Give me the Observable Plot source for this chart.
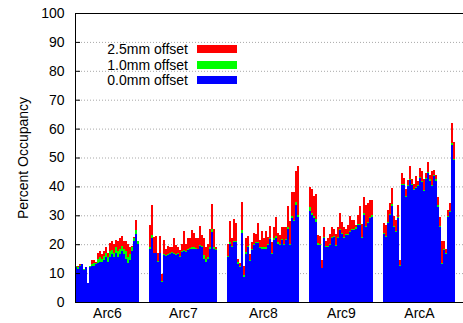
<!DOCTYPE html>
<html>
<head>
<meta charset="utf-8">
<script src="https://cdn.jsdelivr.net/npm/d3@7"></script>
<script src="https://cdn.jsdelivr.net/npm/@observablehq/plot@0.6"></script>
<style>
  html, body { margin: 0; padding: 0; background: #fff; }
  #wrap { position: relative; width: 463px; height: 323px; font-family: "Liberation Sans", Arial, Helvetica, sans-serif; }
  .lg-text { position: absolute; width: 110px; text-align: right; font-size: 14px; line-height: 16px; color: #000; white-space: nowrap; }
  .lg-swatch { position: absolute; width: 40px; height: 8px; }
</style>
</head>
<body>
<div id="wrap"></div>
<script>
// ---- data (percent occupancy per bar) ----
const groupNames = ["Arc6", "Arc7", "Arc8", "Arc9", "ArcA"];
const seriesNames = ["2.5mm offset", "1.0mm offset", "0.0mm offset"];
const seriesColors = ["#ff0000", "#00ff00", "#0000ff"];

const red6   = [12.3, 12.5, 13, 13.2, 11.5, 12.2, 6.5, 12.5, 14.5, 14.5, 14, 17, 17.5, 16.5, 17.5, 19, 17, 20.5, 21, 20, 21.5, 21, 22, 23, 21, 21, 20, 19, 19.5, 22.5, 28.3, 21];
const green6 = [12.3, 12, 12.8, 13.2, 11.3, 12.2, 6.5, 12.3, 13, 13.5, 13.6, 15, 15.5, 15, 16, 17, 15.5, 17.5, 18, 17, 19, 17.5, 18.5, 19.5, 18.5, 17.5, 15.5, 16.5, 19, 22, 25, 21];
const blue6  = [12, 11.5, 12.5, 13, 11, 12, 6.5, 12, 12.5, 12.5, 13, 13.5, 14, 14, 14.5, 15.5, 14, 15.5, 16.5, 15.5, 17, 15.5, 16.5, 17.5, 16.5, 15, 13.5, 14.5, 17.5, 21, 23.5, 20];

const red7   = [26.6, 33.5, 22.5, 22.8, 17, 22.8, 9.8, 21.6, 18.5, 19.3, 19.1, 18.9, 22.3, 19.7, 19.1, 17.9, 20.0, 24.5, 20.0, 22.0, 22.0, 24.9, 23.9, 22.0, 22.0, 26.3, 23.1, 22.3, 19.1, 20.2, 25.1, 33.8, 25.4, 19];
const green7 = [18.9, 23.1, 17.1, 17.1, 14.2, 17.1, 7.4, 16.5, 16.1, 16.5, 16.8, 17.2, 16.8, 16.5, 16.8, 15.8, 17.6, 18.0, 17.6, 18.3, 18.6, 18.9, 18.9, 18.6, 18.5, 19.8, 19.4, 16.2, 14.8, 15.4, 18.9, 25.2, 19.2, 18.3];
const blue7  = [18.5, 22.3, 16.8, 16.8, 13.9, 16.8, 7.0, 16.2, 15.8, 16.2, 16.5, 16.8, 16.5, 16.2, 16.5, 15.4, 17.3, 17.7, 17.3, 17.9, 18.2, 18.5, 18.5, 18.3, 18.2, 19.4, 19.1, 15.0, 13.9, 15.0, 18.5, 24.3, 18.5, 18.0];

const red8   = [20.2, 28.1, 22, 28.8, 27.5, 15, 13.5, 34.6, 12.3, 22.3, 22.7, 16.7, 20.8, 23.9, 23.7, 27.4, 21.6, 24.5, 22, 24.5, 22.5, 26.2, 20.8, 26, 29.5, 23.9, 23.1, 26, 25.8, 25.8, 33.1, 28.1, 38.1, 38, 45.4, 47];
const green8 = [15.9, 20.6, 19.4, 21.2, 21.2, 13.7, 12.5, 24.8, 9.2, 17.3, 19.4, 14.6, 18.3, 20.0, 20.9, 20.9, 19.2, 18.9, 18.9, 18.9, 20.0, 22.3, 17.0, 22.0, 22.7, 20.6, 20.0, 21.8, 20.0, 21.8, 26.0, 20.0, 29.7, 28.4, 34.6, 30.0];
const blue8  = [15.6, 20.2, 19, 20.8, 20.8, 13.3, 12.1, 23.9, 8.6, 16.7, 19.0, 14.2, 17.9, 19.6, 20.5, 20.5, 18.8, 18.5, 18.5, 18.5, 19.6, 21.9, 16.5, 21.6, 22.3, 20.2, 19.6, 21.4, 19.6, 21.4, 25.4, 19.6, 28.9, 28, 33.5, 29.5];

const red9   = [39.9, 39.0, 36.6, 37.3, 23.1, 22.8, 14.5, 26.0, 21.2, 22.3, 23.5, 25.8, 25.4, 23.7, 25.8, 30.9, 27.8, 26, 25.1, 26.6, 29.7, 28.3, 28.3, 26.6, 30.1, 33.2, 27, 36.2, 33.5, 34.3, 35.3, 35.3];
const green9 = [32.7, 30.9, 29.6, 28.8, 20.3, 20.1, 11.9, 22.4, 19.5, 19.3, 20.1, 22.4, 22.9, 19.7, 22.4, 25.3, 23.9, 22.4, 23.5, 23.5, 24.7, 25.3, 25.3, 25.8, 27.0, 27.0, 22.4, 30.8, 26.4, 27.6, 29.4, 30.0];
const blue9  = [31.6, 30.1, 28.9, 27.7, 19.7, 19.7, 11.6, 22.0, 19.1, 18.9, 19.7, 22.0, 22.5, 19.3, 22.0, 24.9, 23.5, 22.0, 23.1, 23.1, 24.3, 24.9, 24.9, 25.4, 26.6, 26.6, 22.0, 30.1, 26.0, 27.2, 28.9, 29.5];

const redA   = [27.2, 26.6, 31.8, 34.3, 39.3, 29.7, 28.3, 33.5, 14.4, 44.5, 43, 39, 42.3, 47, 42.5, 41, 43.6, 42, 46.5, 45.3, 42.5, 44.5, 48.5, 44, 45.5, 45.7, 44, 36.2, 29.3, 21.2, 21, 18.5, 32, 34.3, 62, 55.5];
const greenA = [24.0, 23.0, 27.6, 30.6, 33.8, 26.4, 24.7, 29.3, 12.7, 40.8, 40.9, 36.8, 40.4, 42.6, 40.9, 39.1, 39.9, 40.4, 43.2, 41.9, 38.9, 42.9, 44.9, 42.4, 40.5, 43.9, 42.4, 33.5, 26.4, 13.5, 18.4, 16.9, 29.9, 31.5, 55.1, 49.5];
const blueA  = [23.5, 22.5, 27.2, 30, 33.2, 26, 24.3, 28.9, 12.4, 40.5, 40.5, 36.4, 40, 42.2, 40.5, 38.7, 39.5, 40, 42.8, 41.5, 38.5, 42.5, 44.5, 42, 40.1, 43.5, 42, 33, 26, 13, 18, 16.5, 29.5, 31, 54.3, 49];

const yTicks = [0, 10, 20, 30, 40, 50, 60, 70, 80, 90, 100];

// ---- build table ----
const groups = [
  {name: groupNames[0], red: red6, green: green6, blue: blue6},
  {name: groupNames[1], red: red7, green: green7, blue: blue7},
  {name: groupNames[2], red: red8, green: green8, blue: blue8},
  {name: groupNames[3], red: red9, green: green9, blue: blue9},
  {name: groupNames[4], red: redA, green: greenA, blue: blueA}
];
const GAP = 5, TAIL = 4;
const rows = [];
const centers = [];
let s = 0;
groups.forEach(g => {
  const n = g.blue.length;
  centers.push(s + n / 2);
  for (let i = 0; i < n; i++) rows.push({slot: s + i, red: g.red[i], green: g.green[i], blue: g.blue[i]});
  s += n + GAP;
});
const xMax = s - GAP + TAIL;

const font = '"Liberation Sans", Arial, Helvetica, sans-serif';
const barOpts = (key, color) => ({x1: "slot", x2: d => d.slot + 1, y1: 0, y2: key, fill: color, shapeRendering: "crispEdges"});

const chart = Plot.plot({
  width: 463,
  height: 323,
  marginLeft: 75,
  marginRight: 0,
  marginTop: 13,
  marginBottom: 21,
  style: {fontFamily: font, fontSize: "14px", background: "#fff", color: "#000", overflow: "visible"},
  x: {type: "linear", domain: [0, xMax], axis: null},
  y: {domain: [0, 100], axis: null},
  marks: [
    Plot.gridY(yTicks.slice(1, -1), {stroke: "#a8a8a8", strokeOpacity: 1, strokeDasharray: "1,2"}),
    Plot.rect(rows, barOpts("red", seriesColors[0])),
    Plot.rect(rows, barOpts("green", seriesColors[1])),
    Plot.rect(rows, barOpts("blue", seriesColors[2])),
    Plot.ruleY([0, 100], {stroke: "#000"}),
    Plot.ruleX([0], {stroke: "#000"}),
    Plot.axisY(yTicks, {tickSize: 5, dx: 5, tickFormat: () => "", label: null}),
    Plot.axisY(yTicks, {tickSize: 0, tickPadding: 11, label: "Percent Occupancy", labelAnchor: "center", labelArrow: "none", labelOffset: 57}),
    Plot.axisX(centers, {tickSize: 0, tickPadding: 6, tickFormat: d => groups[centers.indexOf(d)].name, label: null})
  ]
});

const wrap = document.getElementById("wrap");
wrap.appendChild(chart);

// ---- legend (inside plot, top-left) ----
const legendRows = [49, 64.5, 79.5];
seriesNames.forEach((name, i) => {
  const t = document.createElement("div");
  t.className = "lg-text";
  t.textContent = name;
  t.style.left = (188 - 110) + "px";
  t.style.top = (legendRows[i] - 8) + "px";
  wrap.appendChild(t);
  const sw = document.createElement("div");
  sw.className = "lg-swatch";
  sw.style.background = seriesColors[i];
  sw.style.left = "197px";
  sw.style.top = (legendRows[i] - 4) + "px";
  wrap.appendChild(sw);
});
</script>
</body>
</html>
